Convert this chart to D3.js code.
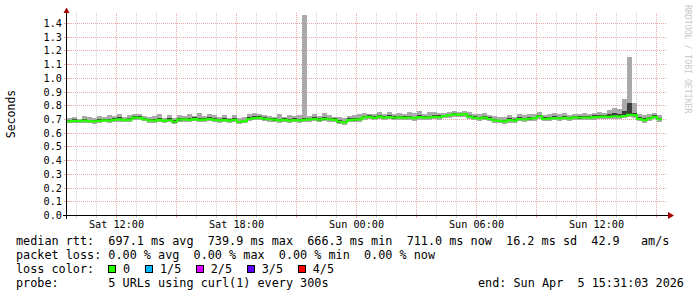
<!DOCTYPE html>
<html><head><meta charset="utf-8">
<script src="https://cdn.jsdelivr.net/npm/d3@7"></script>
<style>
html,body{margin:0;padding:0;background:#fff;}
svg{display:block;font-family:"DejaVu Sans Mono",monospace;}
</style>
</head><body><svg id="c" width="697" height="297"></svg>
<script>
// ---- data ----
const startTime = "2026-04-04T09:31:03Z";
const endTime = "2026-04-05T15:31:03Z";
const stepMinutes = 15;
const medianMs = [683,686,684,688,685,682,687,690,688,
 694,697,692,696,710,708,698,
 690,688,693,686,691,680,
 695,697,693,699,694,696,700,694,
 690,692,688,694,678,685,
 700,706,708,702,
 698,695,690,693,688,692,690,
 694,
 697,700,695,702,698,693,
 680,676,
 692,695,697,
 712,715,708,718,710,714,709,712,
 708,711,706,714,710,712,716,713,
 722,728,733,730,735,
 718,708,704,710,700,
 690,686,683,692,688,
 700,697,702,706,720,
 700,703,707,704,708,705,
 712,709,711,710,713,
 716,718,715,720,717,722,
 730,728,
 700,692,705,
 715,698];
const maxMs = [705,712,700,722,715,708,725,718,730,
 720,735,716,728,740,738,722,
 712,725,735,710,728,705,
 730,722,738,725,742,720,735,728,
 715,732,710,726,705,718,
 738,745,735,728,
 725,718,735,712,730,720,728,
 1460,
 725,735,720,742,730,718,
 712,705,
 722,730,735,
 745,740,738,752,735,748,740,745,
 738,750,742,755,740,748,752,745,
 745,750,756,752,758,
 748,735,738,742,728,
 720,712,715,728,718,
 735,730,738,740,748,
 728,738,745,735,742,730,
 740,735,745,738,742,
 748,745,762,780,775,845,
 1155,820,
 735,728,740,
 745,730];
const minMs = [668,672,670,674,670,666,672,675,673,
 678,680,676,680,692,690,682,
 674,672,676,668,675,662,
 678,680,676,682,676,680,684,676,
 672,676,670,678,660,668,
 684,690,690,686,
 680,678,672,676,670,675,672,
 676,
 680,684,678,685,680,676,
 662,658,
 675,678,680,
 695,698,690,700,692,697,690,695,
 690,694,688,696,692,695,698,695,
 705,710,714,712,716,
 700,690,686,692,682,
 672,668,665,674,670,
 682,680,684,688,702,
 682,686,690,686,690,688,
 694,692,694,692,696,
 698,700,698,702,700,704,
 712,710,
 682,674,688,
 698,680];
const p4Ms = [695,698,692,700,696,690,700,702,698,
 705,712,702,708,722,720,708,
 700,702,706,695,704,690,
 708,710,705,714,706,708,714,705,
 700,706,698,708,688,696,
 715,720,720,714,
 710,706,702,705,698,705,700,
 708,
 708,714,706,716,710,704,
 690,686,
 704,708,710,
 725,728,720,732,722,728,720,725,
 720,725,718,728,722,725,730,726,
 732,738,742,740,745,
 730,720,716,722,712,
 700,696,694,704,698,
 712,708,714,718,732,
 712,716,720,716,720,716,
 724,720,722,722,726,
 728,730,735,745,740,760,
 815,745,
 712,704,716,
 728,710];
const p2Ms = [677,680,678,682,679,676,681,684,682,
 688,690,686,690,703,701,691,
 684,682,687,680,685,673,
 689,690,687,692,688,690,693,688,
 684,686,682,688,671,679,
 694,699,701,696,
 692,689,684,687,682,686,684,
 688,
 690,693,689,695,691,687,
 673,669,
 686,689,691,
 705,708,702,711,704,707,703,706,
 702,704,700,707,704,706,709,707,
 716,721,726,723,728,
 711,702,698,703,693,
 684,679,676,685,682,
 694,691,695,699,713,
 694,697,700,698,701,699,
 705,703,705,704,707,
 710,711,709,713,711,715,
 722,721,
 693,686,698,
 708,691];
const yTicks = [0.0,0.1,0.2,0.3,0.4,0.5,0.6,0.7,0.8,0.9,1.0,1.1,1.2,1.3,1.4];
const xLabelTimes = ["2026-04-04T12:00:00Z","2026-04-04T18:00:00Z","2026-04-05T00:00:00Z","2026-04-05T06:00:00Z","2026-04-05T12:00:00Z"];
const legendLine1 = "median rtt:  697.1 ms avg  739.9 ms max  666.3 ms min  711.0 ms now  16.2 ms sd  42.9   am/s";
const legendLine2 = "packet loss: 0.00 % avg  0.00 % max  0.00 % min  0.00 % now";
const lossLabel = "loss color:";
const lossLabels = ["0","1/5","2/5","3/5","4/5"];
const probeLabel = "probe:       5 URLs using curl(1) every 300s";
const endLabel = "end: Sun Apr  5 15:31:03 2026";
const yTitle = "Seconds";
const watermark = "RRDTOOL / TOBI OETIKER";

// ---- styles ----
const lossColors = ["#26ff00","#00b8ff","#d800ff","#5a00ff","#ff0000"];
const lossBoxX = [108.5,145.5,196.5,247.5,298.5];
const lossTextX = [123,160,210.7,261.7,312.7];
const nb = s => s.replace(/ /g,"\u00a0");

const svg = d3.select("#c");
const t0 = new Date(startTime), t1 = new Date(endTime);
const x = d3.scaleUtc().domain([t0,t1]).range([67,667]);
const y = d3.scaleLinear().domain([0,1.4]).range([215,23]);
const stepMs = stepMinutes*60000;
const data = medianMs.map((m,i)=>({t:new Date(t0.getTime()+i*stepMs), med:m/1000, lo:minMs[i]/1000, hi:maxMs[i]/1000, p2:p2Ms[i]/1000, p4:p4Ms[i]/1000}));

svg.append("rect").attr("width",697).attr("height",297).attr("fill","#fff");

// grid
const g = svg.append("g");
const hours = d3.utcHour.every(1).range(t0,t1);
hours.forEach(h=>{
  const major = h.getUTCHours()%3===0;
  const px = Math.floor(x(h))+0.5;
  g.append("line").attr("x1",px).attr("x2",px).attr("y1",13).attr("y2",215)
   .attr("stroke",major?"#e8a8a8":"#cfcfcf").attr("stroke-dasharray","1,1");
  g.append("line").attr("x1",px).attr("x2",px).attr("y1",213).attr("y2",218)
   .attr("stroke",major?"#e8a8a8":"#cfcfcf");
});
yTicks.forEach(v=>{
  if(v===0) return;
  const py = Math.round(y(v))+0.5;
  g.append("line").attr("x1",67).attr("x2",667).attr("y1",py).attr("y2",py)
   .attr("stroke","#e8a8a8").attr("stroke-dasharray","1,1");
  g.append("line").attr("x1",64).attr("x2",69).attr("y1",py).attr("y2",py)
   .attr("stroke","#e8a8a8");
});

// smoke
const bw = x(new Date(t0.getTime()+stepMs))-x(t0);
const sm = svg.append("g").attr("shape-rendering","crispEdges");
sm.selectAll("rect.o").data(data).join("rect").attr("class","o")
  .attr("x",d=>x(d.t)).attr("width",bw)
  .attr("y",d=>y(d.hi)).attr("height",d=>y(d.lo)-y(d.hi)).attr("fill","#aaaaaa");
sm.selectAll("rect.i").data(data).join("rect").attr("class","i")
  .attr("x",d=>x(d.t)).attr("width",bw)
  .attr("y",d=>y(d.p4)).attr("height",d=>y(d.p2)-y(d.p4)).attr("fill","#3c3c3c");

// median line
const last = data[data.length-1];
const lineData = data.concat([{t:new Date(last.t.getTime()+stepMs), med:last.med}]);
svg.append("path").datum(lineData)
  .attr("d", d3.line().x(d=>x(d.t)).y(d=>y(d.med)).curve(d3.curveStepAfter))
  .attr("fill","none").attr("stroke",lossColors[0]).attr("stroke-width",2.2);

// axes
svg.append("line").attr("x1",63).attr("x2",669).attr("y1",215.5).attr("y2",215.5).attr("stroke","#000");
svg.append("line").attr("x1",66.5).attr("x2",66.5).attr("y1",219).attr("y2",12).attr("stroke","#000");
svg.append("path").attr("d","M668,212 L674,215.5 L668,219 Z").attr("fill","#a00000");
svg.append("path").attr("d","M63.5,13 L66.5,7.5 L69.5,13 Z").attr("fill","#a00000");

// tick labels
svg.append("g").selectAll("text").data(yTicks).join("text")
  .attr("x",62).attr("y",d=>Math.round(y(d))+0.5).attr("dy","0.36em")
  .attr("text-anchor","end").attr("font-size","10.2px").attr("fill","#000")
  .text(d=>d3.format(".1f")(d));
const fmt = d3.utcFormat("%a %H:%M");
svg.append("g").selectAll("text").data(xLabelTimes).join("text")
  .attr("x",d=>Math.floor(x(new Date(d)))+0.5).attr("y",227.5)
  .attr("text-anchor","middle").attr("font-size","10.2px").attr("fill","#000")
  .text(d=>fmt(new Date(d)));

// y title
svg.append("text").attr("transform","translate(14.5,114) rotate(-90)")
  .attr("text-anchor","middle").attr("font-size","11.5px").attr("fill","#000").text(yTitle);

// watermark
svg.append("text").attr("transform","translate(685,5) rotate(90)")
  .attr("font-size","8.2px").attr("fill","#c8c8c8").text(nb(watermark));

// legend
const leg = svg.append("g").attr("font-size","11.8px").attr("fill","#000");
leg.append("text").attr("x",16).attr("y",245).text(nb(legendLine1));
leg.append("text").attr("x",16).attr("y",259).text(nb(legendLine2));
leg.append("text").attr("x",16).attr("y",273).text(nb(lossLabel));
lossLabels.forEach((l,i)=>{
  leg.append("rect").attr("x",lossBoxX[i]).attr("y",265.5).attr("width",7).attr("height",7)
    .attr("fill",lossColors[i]).attr("stroke","#000").attr("stroke-width",1);
  leg.append("text").attr("x",lossTextX[i]).attr("y",273).text(l);
});
leg.append("text").attr("x",16).attr("y",287).text(nb(probeLabel));
leg.append("text").attr("x",478).attr("y",287).text(nb(endLabel));
</script>
</body></html>
